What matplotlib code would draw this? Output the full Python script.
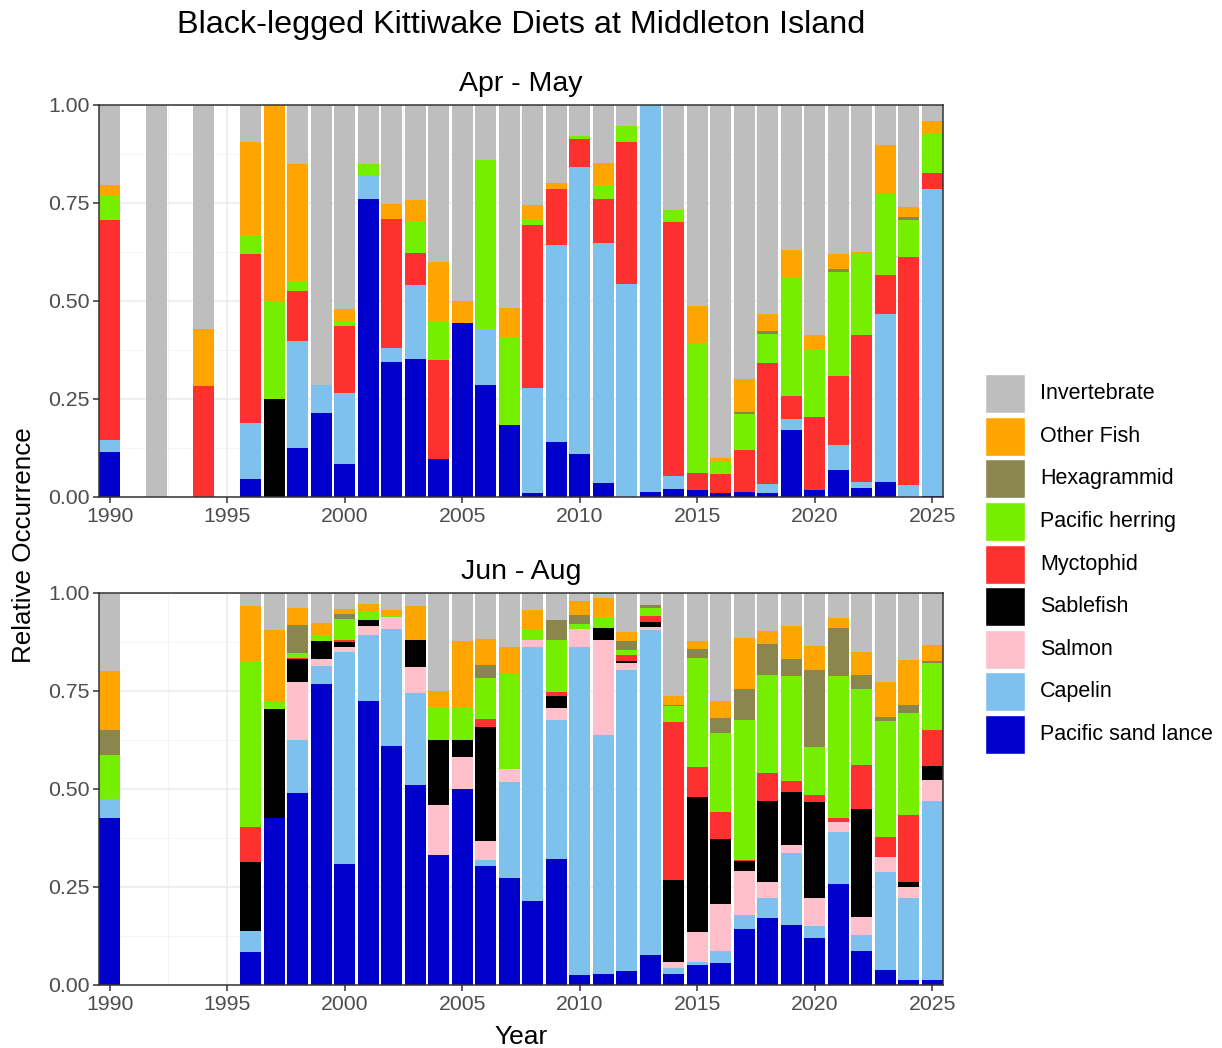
import matplotlib.pyplot as plt
from matplotlib.patches import Rectangle
from matplotlib.ticker import MultipleLocator

plt.rcParams['font.family'] = ['Liberation Sans', 'DejaVu Sans']

# stacking order, bottom to top
prey = ['Pacific sand lance', 'Capelin', 'Salmon', 'Sablefish', 'Myctophid',
        'Pacific herring', 'Hexagrammid', 'Other Fish', 'Invertebrate']
prey_colors = ['#0000CD', '#7EC0EE', '#FFC0CB', '#000000', '#FF3030',
               '#76EE00', '#8B864E', '#FFA500', '#BEBEBE']

# ---- Apr - May ----
apr_years = [1990, 1992, 1994] + list(range(1996, 2026))
apr_sand_lance = [.115, 0, 0, .046, 0, .124, .214, .083, .760, .345, .351, .097, .444, .285, .184,
                  .010, .141, .109, .035, 0, .013, .020, .019, .010, .013, .011, .171, .019, .070,
                  .022, .038, 0, .003]
apr_capelin = [.031, 0, 0, .143, 0, .275, .071, .183, .060, .036, .190, 0, 0, .143, 0,
               .269, .503, .732, .614, .544, .987, .033, 0, 0, 0, .021, .027, 0, .062,
               .016, .429, .030, .782]
apr_salmon = [0] * 33
apr_sablefish = [0, 0, 0, 0, .25, 0, 0, 0, 0, 0, 0, 0, 0, 0, 0,
                 0, 0, 0, 0, 0, 0, 0, 0, 0, 0, 0, 0, 0, 0,
                 0, 0, 0, 0]
apr_myctophid = [.561, 0, .284, .431, 0, .127, 0, .170, 0, .329, .082, .253, 0, 0, 0,
                 .416, .142, .071, .112, .361, 0, .649, .042, .049, .107, .309, .059, .184, .176,
                 .376, .099, .582, .041]
apr_herring = [.060, 0, 0, .048, .25, .024, 0, .014, .030, 0, .080, .100, 0, .431, .224,
               .014, 0, .009, .036, .042, 0, .030, .331, .031, .093, .074, .304, .175, .265,
               .207, .207, .095, .100]
apr_hexagrammid = [0, 0, 0, 0, 0, 0, 0, 0, 0, 0, 0, 0, 0, 0, 0,
                   0, 0, 0, 0, 0, 0, 0, 0, 0, .005, .009, 0, 0, .008,
                   0, 0, .007, 0]
apr_other_fish = [.029, 0, .144, .238, .50, .300, 0, .029, 0, .037, .054, .150, .056, 0, .074,
                  .036, .016, 0, .056, 0, 0, 0, .094, .010, .083, .042, .069, .034, .040,
                  .005, .126, .025, .033]
apr_invertebrate = [.204, 1.0, .572, .094, 0, .150, .715, .521, .150, .253, .243, .400, .500, .141, .518,
                    .255, .198, .079, .147, .053, 0, .268, .514, .900, .699, .534, .370, .588, .379,
                    .374, .101, .261, .041]

# ---- Jun - Aug ----
jun_years = [1990] + list(range(1996, 2026))
jun_sand_lance = [.425, .085, .425, .489, .769, .309, .725, .609, .511, .332, .499, .303, .274, .215,
                  .321, .026, .027, .035, .077, .027, .051, .055, .144, .172, .154, .121, .258, .088,
                  .038, .014, .014]
jun_capelin = [.049, .053, 0, .137, .044, .540, .168, .299, .234, 0, 0, .017, .243, .648,
               .356, .836, .610, .768, .829, .017, .007, .031, .034, .051, .182, .029, .133, .039,
               .250, .207, .455]
jun_salmon = [0, 0, 0, .147, .019, .012, .022, .031, .067, .126, .083, .048, .035, .016,
              .029, .047, .242, .019, .008, .015, .076, .121, .112, .039, .020, .071, .026, .046,
              .038, .028, .053]
jun_sablefish = [0, .176, .278, .059, .046, .013, .017, 0, .067, .167, .043, .290, 0, 0,
                 .031, 0, .031, .004, .012, .208, .346, .165, .026, .208, .137, .246, 0, .275,
                 0, .013, .036]
jun_myctophid = [0, .089, 0, .003, 0, .005, 0, 0, 0, 0, 0, .021, 0, 0,
                 .011, 0, 0, .017, .016, .403, .076, .070, .004, .070, .027, .018, .009, .112,
                 .051, .172, .092]
jun_herring = [.113, .423, .021, .011, .014, .055, .023, .005, 0, .084, .084, .103, .241, .030,
               .131, .012, .030, .011, .020, .041, .277, .200, .357, .251, .269, .122, .361, .196,
               .296, .261, .172]
jun_hexagrammid = [.064, 0, 0, .072, 0, .012, 0, 0, 0, 0, 0, .034, 0, 0,
                   .053, .024, 0, .024, .007, .004, .023, .039, .079, .078, .043, .196, .123, .035,
                   .010, .020, .004]
jun_other_fish = [.150, .141, .181, .045, .032, .013, .016, .012, .089, .041, .168, .066, .070, .047,
                  0, .035, .046, .023, 0, .022, .022, .043, .130, .035, .083, .061, .026, .058,
                  .089, .115, .041]
jun_invertebrate = [.199, .033, .095, .037, .076, .041, .029, .044, .032, .250, .123, .118, .137, .044,
                    .068, .020, .014, .099, .031, .263, .122, .276, .114, .096, .085, .136, .064, .151,
                    .228, .170, .133]

panels = [
    ('Apr - May', apr_years,
     [apr_sand_lance, apr_capelin, apr_salmon, apr_sablefish, apr_myctophid,
      apr_herring, apr_hexagrammid, apr_other_fish, apr_invertebrate]),
    ('Jun - Aug', jun_years,
     [jun_sand_lance, jun_capelin, jun_salmon, jun_sablefish, jun_myctophid,
      jun_herring, jun_hexagrammid, jun_other_fish, jun_invertebrate]),
]

W, H = 1222, 1048
fig = plt.figure(figsize=(W / 100, H / 100), dpi=100)


def px_axes(x0, y0, x1, y1):
    # axes from pixel box (top-left origin)
    return fig.add_axes([x0 / W, 1 - y1 / H, (x1 - x0) / W, (y1 - y0) / H])


ax_top = px_axes(99, 105, 943, 497)
ax_bot = px_axes(99, 593, 943, 985)

for ax, (season, years, series) in zip([ax_top, ax_bot], panels):
    bottom = [0.0] * len(years)
    for vals, col in zip(series, prey_colors):
        ax.bar(years, vals, width=0.9, bottom=bottom, color=col, linewidth=0, zorder=2)
        bottom = [b + v for b, v in zip(bottom, vals)]

    ax.set_xlim(1989.55, 2025.45)
    ax.set_ylim(0, 1)
    ax.xaxis.set_major_locator(MultipleLocator(5))
    ax.xaxis.set_minor_locator(MultipleLocator(2.5))
    ax.yaxis.set_major_locator(MultipleLocator(0.25))
    ax.yaxis.set_minor_locator(MultipleLocator(0.125))
    ax.yaxis.set_major_formatter(plt.FuncFormatter(lambda v, p: f'{v:.2f}'))
    ax.grid(which='major', color='#EBEBEB', linewidth=1.1, zorder=0)
    ax.grid(which='minor', color='#F3F3F3', linewidth=0.6, zorder=0)
    ax.set_axisbelow(True)
    for s in ax.spines.values():
        s.set_color('#333333')
        s.set_linewidth(1.1)
    ax.tick_params(which='major', length=4.5, width=1.1, color='#333333',
                   labelsize=15.3, labelcolor='#4D4D4D', pad=2.5)
    ax.tick_params(which='minor', length=0)
    ax.set_title(season, fontsize=20.5, pad=10)

ax_bot.set_xlabel('Year', fontsize=19, labelpad=8)
fig.text(24 / W, 1 - 545 / H, 'Relative Occurrence', rotation=90, fontsize=18.7,
         ha='center', va='center')
fig.text(521 / W, 1 - 25 / H, 'Black-legged Kittiwake Diets at Middleton Island',
         fontsize=23.3, ha='center', va='center')

# legend drawn as keys + labels in its own axes (pixel units)
ax_leg = px_axes(980, 370, 1222, 760)
ax_leg.set_xlim(980, 1222)
ax_leg.set_ylim(760, 370)
ax_leg.axis('off')
for i, (name, col) in enumerate(zip(prey[::-1], prey_colors[::-1])):
    yc = 393.7 + i * 42.6
    ax_leg.add_patch(Rectangle((985.5, yc - 19.5), 39, 39, facecolor=col,
                               edgecolor='white', linewidth=1))
    ax_leg.text(1040, yc, name, fontsize=15.5, va='center', ha='left')

fig.savefig('out.png', dpi=100)
